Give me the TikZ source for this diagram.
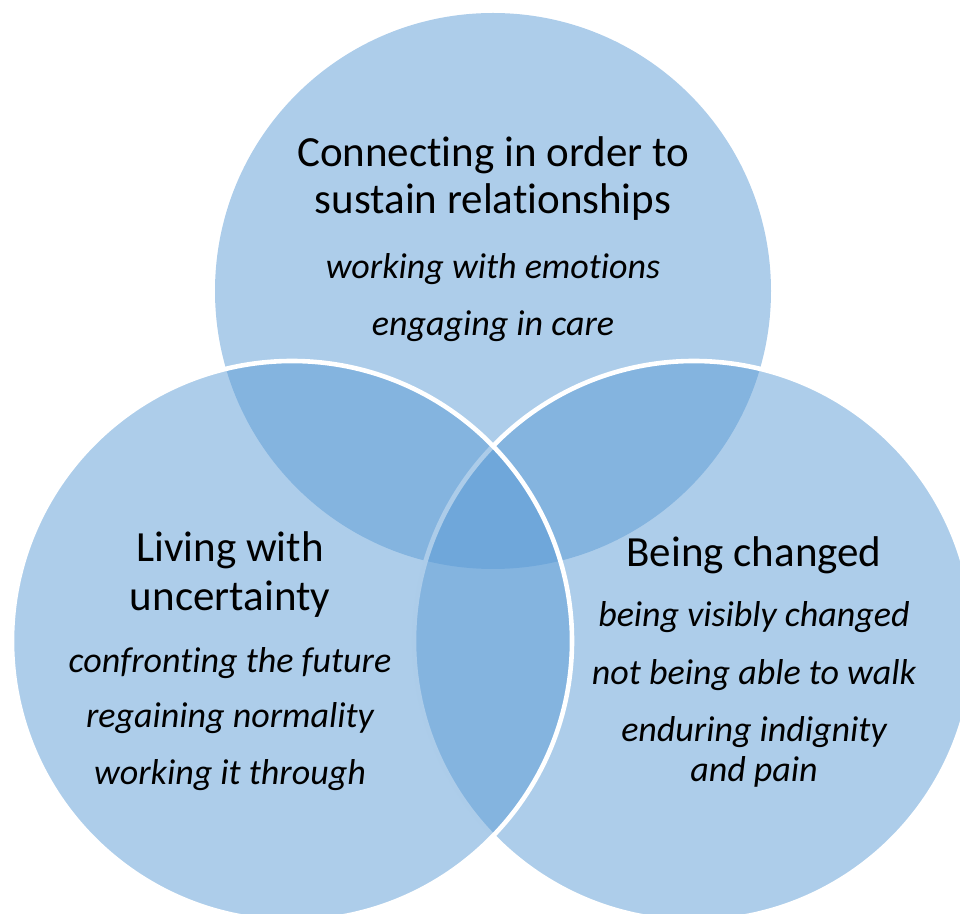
\documentclass[tikz,border=0pt]{standalone}
\usepackage{fontspec}
\usepackage{xcolor}
\setmainfont{Carlito}[Ligatures=NoCommon]
\definecolor{vennblue}{RGB}{91,155,213}

\begin{document}
\begin{tikzpicture}[x=0.5pt, y=-0.5pt,
		set/.style={circle, inner sep=0pt, minimum size=#1, fill=vennblue, fill opacity=0.5},
		rim/.style={draw=white, line width=2.3pt},
		theme/.style={anchor=base, font=\fontsize{21.5}{26}\selectfont},
		sub/.style={anchor=base, font=\fontsize{18}{22}\selectfont\itshape}]
		\useasboundingbox (0, 0) rectangle (960, 914);
		\clip (0, 0) rectangle (960, 914);
		\node[set=278pt] (connect) at (493, 291) {};
		\node[set=280pt, rim] (changed) at (694, 641) {};
		\node[set=280pt, rim] (living) at (292, 641) {};

		\node[theme] (connect1) at (493, 167) {Connecting in order to};
		\node[theme] (connect2) at (493, 214) {sustain relationships};
		\node[sub] (connect3) at (493, 279) {working with emotions};
		\node[sub] (connect4) at (493, 336) {engaging in care};

		\node[theme] (living1) at (230, 562) {Living with};
		\node[theme] (living2) at (230, 611) {uncertainty};
		\node[sub] (living3) at (230, 673) {confronting the future};
		\node[sub] (living4) at (230, 728) {regaining normality};
		\node[sub] (living5) at (230, 785) {working it through};

		\node[theme] (changed1) at (754, 567) {Being changed};
		\node[sub] (changed2) at (754, 627) {being visibly changed};
		\node[sub] (changed3) at (754, 685) {not being able to walk};
		\node[sub] (changed4) at (754, 742) {enduring indignity};
		\node[sub] (changed5) at (754, 782) {and pain};
	\end{tikzpicture}
\end{document}
